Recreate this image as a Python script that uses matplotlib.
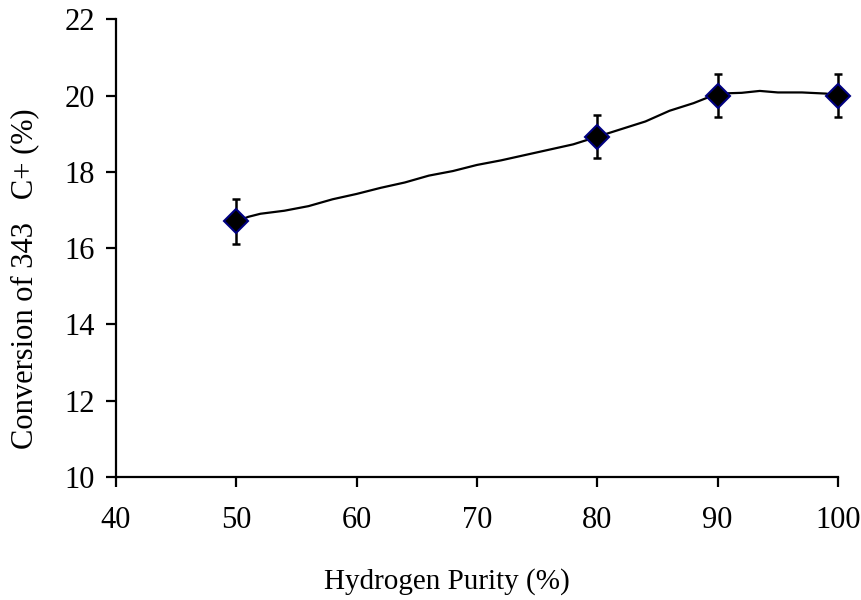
import numpy as np
import matplotlib.pyplot as plt

plt.rcParams['font.family'] = ['Liberation Serif', 'DejaVu Serif']

# measured points with error bars
purity = [50, 80, 90, 100]
conversion = [16.7, 18.92, 20.0, 20.0]
conv_err = [0.58, 0.57, 0.56, 0.57]

# smoothed trend line
line_x = [50, 51, 52, 54, 56, 58, 60, 62, 64, 66, 68, 70, 72, 74, 76, 78, 80,
          82, 84, 86, 88, 90, 92, 93.5, 95, 97, 99, 100]
line_y = [16.7, 16.82, 16.9, 16.98, 17.1, 17.28, 17.42, 17.58, 17.72, 17.9, 18.02, 18.18,
          18.3, 18.44, 18.58, 18.72, 18.92, 19.12, 19.32, 19.6, 19.8, 20.05, 20.07,
          20.12, 20.08, 20.08, 20.05, 20.0]

fig = plt.figure(figsize=(8.61, 6.0), dpi=100)
ax = fig.add_axes([0.1347, 0.205, 0.8386, 0.763])

ax.plot(line_x, line_y, color='black', lw=1.6, zorder=2, clip_on=False)
ax.errorbar(purity, conversion, yerr=conv_err, fmt='none', ecolor='black',
            elinewidth=1.8, capsize=3, capthick=1.8, zorder=3, clip_on=False)
ax.plot(purity, conversion, ls='none', marker='D', markersize=12, clip_on=False,
        markerfacecolor='black', markeredgecolor='#000080', markeredgewidth=1.5, zorder=4)

ax.set_xlim(40, 100)
ax.set_ylim(10, 22)
ax.set_xticks(np.arange(40, 101, 10))
ax.set_yticks(np.arange(10, 23, 2))

for s in ['top', 'right']:
    ax.spines[s].set_visible(False)
for s in ['left', 'bottom']:
    ax.spines[s].set_linewidth(1.6)

ax.tick_params(axis='both', direction='out', width=1.6, length=7, labelsize=22)
ax.tick_params(axis='x', pad=14)
ax.tick_params(axis='y', pad=8)

ax.set_xlabel('Hydrogen Purity (%)', fontsize=21)
ax.set_ylabel('Conversion of 343   C+ (%)', fontsize=22)
ax.xaxis.set_label_coords(0.458, -0.2)
ax.yaxis.set_label_coords(-0.106, 0.434)

fig.savefig('out.png', dpi=100)
